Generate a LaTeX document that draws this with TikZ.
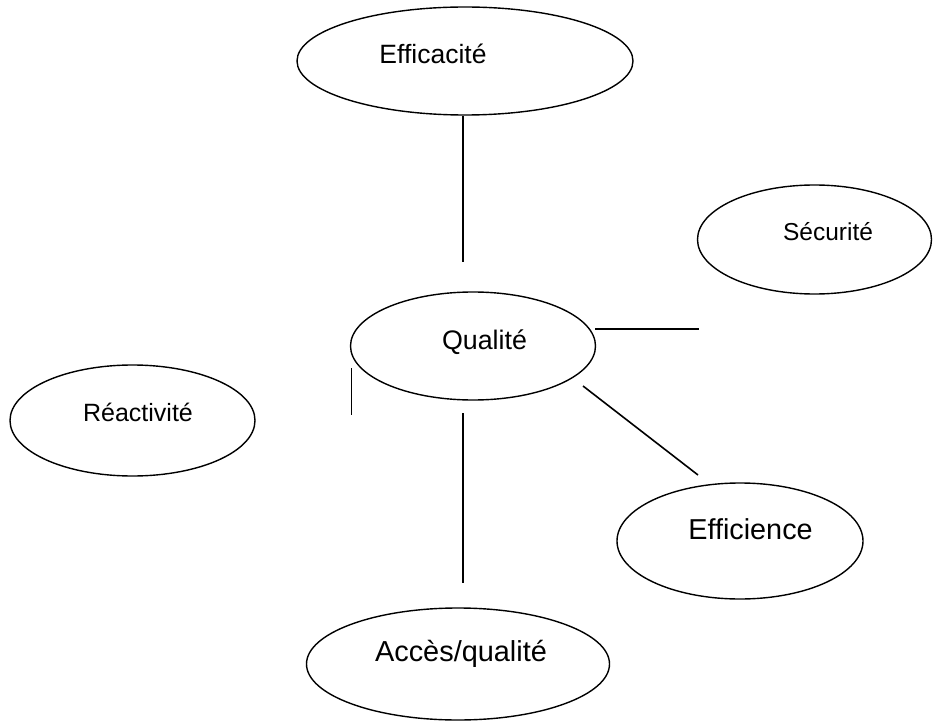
\documentclass[tikz,border=0pt]{standalone}
\usepackage{fontspec}
\setmainfont{Liberation Sans}
\usetikzlibrary{shapes.geometric}
\begin{document}
\begin{tikzpicture}[x=1pt,y=-1pt,
  bubble/.style={ellipse,draw,line width=1.4pt,inner sep=0pt},
  link/.style={line width=1.6pt},
  lbl/.style={anchor=base,inner sep=0pt}]
\useasboundingbox (0,0) rectangle (934,722);

% outlines
\node[bubble,minimum width=336pt,minimum height=108pt] (eff)  at (465,61)    {};
\node[bubble,minimum width=234pt,minimum height=109pt] (sec)  at (814.5,239.5) {};
\node[bubble,minimum width=245pt,minimum height=108pt] (qual) at (473,346)   {};
\node[bubble,minimum width=245pt,minimum height=111pt] (reac) at (132.5,420.5) {};
\node[bubble,minimum width=246pt,minimum height=116pt] (effi) at (740,541)   {};
\node[bubble,minimum width=303pt,minimum height=112pt] (acc)  at (458,664)   {};

% labels
\node[lbl,font=\fontsize{26.5}{30}\selectfont] (teff)  at (433,64)    {Efficacité};
\node[lbl,font=\fontsize{24.5}{28}\selectfont] (tsec)  at (828,240.7) {Sécurité};
\node[lbl,font=\fontsize{26.8}{30}\selectfont] (tqual) at (484.5,349.3) {Qualité};
\node[lbl,font=\fontsize{25}{28}\selectfont]   (treac) at (138,421.7) {Réactivité};
\node[lbl,font=\fontsize{28.8}{32}\selectfont] (teffi) at (750.5,539) {Efficience};
\node[lbl,font=\fontsize{28.9}{32}\selectfont] (tacc)  at (461,661.7) {Accès/qualité};

% connector ends
\coordinate (a1) at (463,116);   \coordinate (a2) at (463,262);
\coordinate (b1) at (595,329);   \coordinate (b2) at (699,329);
\coordinate (c1) at (351.5,368); \coordinate (c2) at (351.5,415);
\coordinate (d1) at (583,386);   \coordinate (d2) at (698,475);
\coordinate (e1) at (463,413);   \coordinate (e2) at (463,583);

\draw[link] (a1) -- (a2);
\draw[link] (b1) -- (b2);
\draw[link] (c1) -- (c2);
\draw[link] (d1) -- (d2);
\draw[link] (e1) -- (e2);
\end{tikzpicture}
\end{document}
